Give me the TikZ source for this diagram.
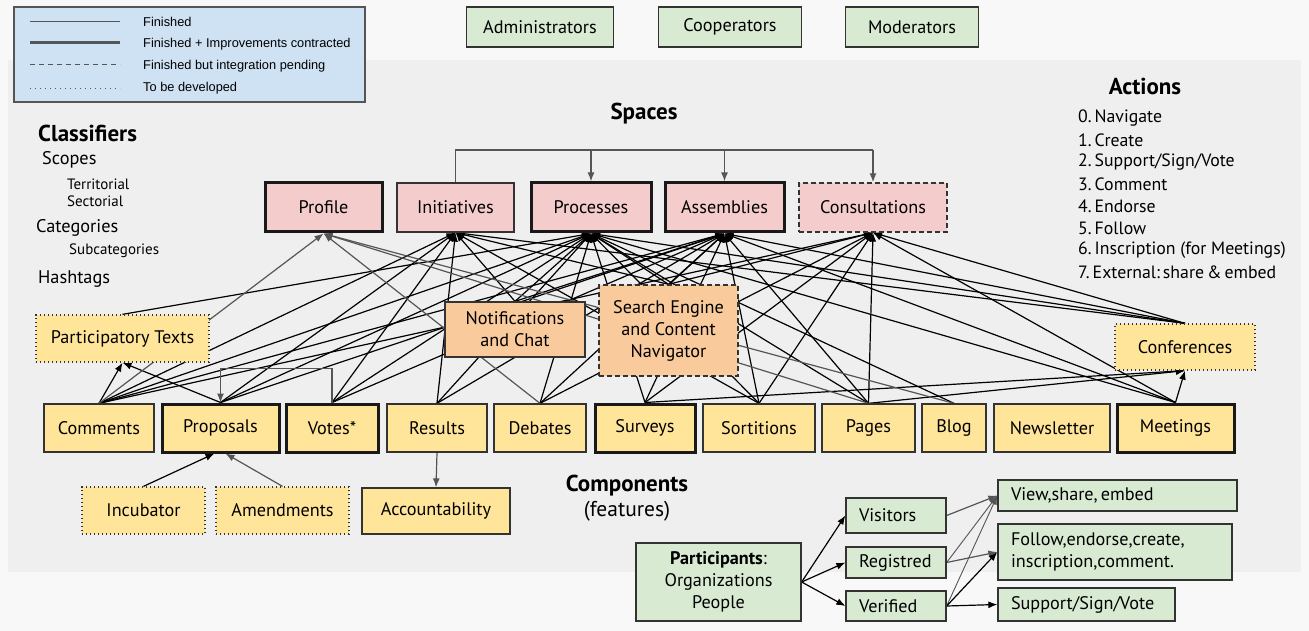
\documentclass[tikz,border=0pt]{standalone}
\usepackage{fontspec}
\setmainfont{PT Sans}
\newfontfamily\legendfont{Liberation Sans}
\usetikzlibrary{arrows.meta,calc}
\pgfdeclarelayer{bg}
\pgfdeclarelayer{edges}
\pgfsetlayers{bg,edges,main}
\definecolor{outerbg}{HTML}{F8F8F8}
\definecolor{innerbg}{HTML}{EFEFEF}
\definecolor{legendfill}{HTML}{CFE2F3}
\definecolor{greenfill}{HTML}{D9EAD3}
\definecolor{pinkfill}{HTML}{F4CCCC}
\definecolor{yellowfill}{HTML}{FFE599}
\definecolor{orangefill}{HTML}{F9CB9C}
\definecolor{edgegrey}{HTML}{555555}
\definecolor{boxline}{HTML}{333333}

\tikzset{
  box/.style={draw=boxline, line width=1.3pt, inner sep=0pt, align=center,
    font=\fontsize{18.2}{22}\selectfont},
  strongbox/.style={line width=3pt, draw=black!90},
  pendingbox/.style={dash pattern=on 5pt off 3pt},
  todobox/.style={dash pattern=on 1.2pt off 2.8pt},
  pink/.style={box, fill=pinkfill, minimum height=49pt},
  yel/.style={box, fill=yellowfill},
  orange/.style={box, fill=orangefill},
  green/.style={box, fill=greenfill},
  leftbox/.style={green, align=left, inner xsep=13pt},
  tip/.style={-{Latex[length=9pt,width=7pt]}},
  link/.style={tip, line width=1.2pt, draw=black},
  greylink/.style={tip, line width=1.2pt, draw=edgegrey},
  bracket/.style={line width=1.5pt, draw=edgegrey},
  plain/.style={inner sep=0pt, anchor=west},
  heading/.style={inner sep=0pt, font=\fontsize{23}{26}\selectfont\bfseries},
  mid/.style={plain, font=\fontsize{18.3}{21}\selectfont},
  small/.style={plain, font=\fontsize{15}{17}\selectfont},
  act/.style={plain, font=\fontsize{17.8}{21}\selectfont},
  legtext/.style={plain, font=\legendfont\fontsize{12.8}{14}\selectfont},
}

\begin{document}
\begin{tikzpicture}[x=1pt, y=-1pt]
\useasboundingbox (0,0) rectangle (1309,631);

\begin{pgfonlayer}{bg}
  \fill[outerbg] (0,0) rectangle (1309,631);
  \fill[innerbg] (8,60) rectangle (1301,572);
\end{pgfonlayer}

% legend
\node[draw=edgegrey, line width=1.3pt, fill=legendfill, minimum width=351pt,
  minimum height=95pt, inner sep=0pt] (legend) at (189.5,54.5) {};
\coordinate (l1a) at (30,22);  \coordinate (l1b) at (120,22);
\coordinate (l2a) at (30,43);  \coordinate (l2b) at (120,43);
\coordinate (l3a) at (30,65);  \coordinate (l3b) at (120,65);
\coordinate (l4a) at (30,88);  \coordinate (l4b) at (120,88);
\draw[edgegrey, line width=1pt] (l1a) -- (l1b);
\draw[edgegrey, line width=3pt] (l2a) -- (l2b);
\draw[edgegrey, line width=1pt, dash pattern=on 5pt off 4pt] (l3a) -- (l3b);
\draw[edgegrey, line width=0.8pt, dash pattern=on 0.8pt off 4.2pt] (l4a) -- (l4b);
\node[legtext] (t1) at (143,22) {Finished};
\node[legtext] (t2) at (143,44) {Finished + Improvements contracted};
\node[legtext] (t3) at (143,66) {Finished but integration pending};
\node[legtext] (t4) at (143,88) {To be developed};

% roles
\node[green, minimum width=147pt, minimum height=40pt] (admins) at (540,27) {Administrators};
\node[green, minimum width=143pt, minimum height=40pt] (coops) at (730,27) {Cooperators};
\node[green, minimum width=133pt, minimum height=40pt] (mods) at (912,27) {Moderators};

% classifiers
\node[heading, anchor=west] (classifiers) at (38,133) {Classifiers};
\node[mid] (scopes) at (42,160) {Scopes};
\node[small] (territorial) at (67,184) {Territorial};
\node[small] (sectorial) at (67,201) {Sectorial};
\node[mid] (categories) at (36,228) {Categories};
\node[small] (subcategories) at (69,251) {Subcategories};
\node[mid] (hashtags) at (38,279) {Hashtags};

% actions
\node[heading] (actions) at (1145,86) {Actions};
\node[act] (a0) at (1078,118) {0.\,Navigate};
\node[act] (a1) at (1078,140) {1.\,Create};
\node[act] (a2) at (1078,162) {2.\,Support/Sign/Vote};
\node[act] (a3) at (1078,184) {3.\,Comment};
\node[act] (a4) at (1078,206) {4.\,Endorse};
\node[act] (a5) at (1078,228) {5.\,Follow};
\node[act] (a6) at (1078,250) {6.\,Inscription (for Meetings)};
\node[act] (a7) at (1078,272) {7.\,External:\,share\,\&\,embed};

% spaces
\node[heading] (spaces) at (644,114) {Spaces};
\node[pink, strongbox, minimum width=117pt] (profile) at (323.5,207.5) {Profile};
\node[pink, minimum width=117pt] (initiatives) at (455.5,207.5) {Initiatives};
\node[pink, strongbox, minimum width=120pt] (processes) at (591,207.5) {Processes};
\node[pink, strongbox, minimum width=119pt] (assemblies) at (724.5,207.5) {Assemblies};
\node[pink, pendingbox, minimum width=148pt] (consultations) at (873,207.5) {Consultations};

% middle layer
\node[yel, todobox, minimum width=173pt, minimum height=47pt] (pt) at (122.5,338.5) {Participatory Texts};
\node[orange, minimum width=140pt, minimum height=55pt] (notif) at (515,329.5) {Notifications\\and Chat};
\node[orange, pendingbox, minimum width=139pt, minimum height=91pt] (search) at (668.5,330.5) {Search Engine\\and Content\\Navigator};
\node[yel, todobox, minimum width=140pt, minimum height=46pt] (conferences) at (1185,347) {Conferences};

% components
\tikzset{comp/.style={yel, minimum height=48pt}}
\node[comp, minimum width=110pt] (comments) at (99,428) {Comments};
\node[comp, strongbox, minimum width=117pt] (proposals) at (220.5,428) {Proposals};
\node[comp, strongbox, minimum width=92pt] (votes) at (332,428) {Votes*};
\node[comp, minimum width=100pt] (results) at (437,428) {Results};
\node[comp, minimum width=92pt] (debates) at (540,428) {Debates};
\node[comp, strongbox, minimum width=100pt] (surveys) at (645,428) {Surveys};
\node[comp, minimum width=112pt] (sortitions) at (759,428) {Sortitions};
\node[comp, minimum width=93pt] (pages) at (868.5,428) {Pages};
\node[comp, minimum width=64pt] (blog) at (954,428) {Blog};
\node[comp, minimum width=116pt] (newsletter) at (1052,428) {Newsletter};
\node[comp, strongbox, minimum width=117pt] (meetings) at (1175.5,428) {Meetings};

\node[yel, todobox, minimum width=123pt, minimum height=47pt] (incubator) at (143.5,510.5) {Incubator};
\node[yel, todobox, minimum width=133pt, minimum height=47pt] (amendments) at (282.5,510.5) {Amendments};
\node[yel, minimum width=148pt, minimum height=46pt] (accountability) at (436,511) {Accountability};

\node[heading] (components) at (627,486) {Components};
\node[inner sep=0pt, font=\fontsize{21.5}{24}\selectfont] (features) at (627,511) {(features)};

% participants
\node[green, minimum width=165pt, minimum height=78pt] (participants) at (718.5,582) {\textbf{Participants}:\\Organizations\\People};
\node[leftbox, text width=74pt, minimum height=35pt] (visitors) at (896,515.5) {Visitors};
\node[leftbox, text width=74pt, minimum height=31pt] (registred) at (896,562.5) {Registred};
\node[leftbox, text width=74pt, minimum height=30pt] (verified) at (896,606) {Verified};
\node[leftbox, text width=213pt, minimum height=31pt] (view) at (1117.5,495.5) {View,share,\,embed};
\node[leftbox, text width=208pt, minimum height=56pt] (follow) at (1115,552) {Follow,endorse,create,\\inscription,comment.};
\node[leftbox, text width=151pt, minimum height=33pt] (support) at (1086.5,604.5) {Support/Sign/Vote};

\begin{pgfonlayer}{edges}
  % initiatives feed the other spaces
  \coordinate (brR) at (873,150);
  \draw[bracket] (initiatives.north) |- (brR);
  \draw[bracket, tip] (processes.north |- brR) -- (processes.north);
  \draw[bracket, tip] (assemblies.north |- brR) -- (assemblies.north);
  \draw[bracket, tip] (brR) -- (consultations.north);

  % components into spaces
  \foreach \s/\t in {
    comments/pt, proposals/pt,
    comments/initiatives, comments/processes, comments/assemblies, comments/consultations,
    proposals/initiatives, proposals/processes, proposals/assemblies,
    votes/initiatives, votes/processes, votes/assemblies,
    results/initiatives, results/processes, results/assemblies,
    debates/processes, debates/assemblies, debates/consultations,
    surveys/processes, surveys/assemblies, surveys/consultations, surveys/conferences,
    sortitions/initiatives, sortitions/processes, sortitions/assemblies, sortitions/consultations,
    pages/processes, pages/assemblies, pages/consultations, pages/conferences,
    blog/processes,
    meetings/processes, meetings/assemblies, meetings/consultations, meetings/conferences,
    pt/processes,
    conferences/processes, conferences/assemblies, conferences/consultations, conferences/initiatives,
    notif/initiatives, notif/processes, notif/assemblies,
    search/initiatives, search/processes, search/assemblies, search/consultations}
    \draw[link] (\s.north) -- (\t.south);

  \foreach \s in {comments, debates, pages, blog}
    \draw[greylink] (\s.north) -- (profile.south);

  % sub-features
  \draw[greylink] (votes.north) -- ++(0,-34) -| (proposals.north);
  \draw[link] (incubator.north) -- ($(proposals.south)+(-6,0)$);
  \draw[greylink] (amendments.north) -- ($(proposals.south)+(5,0)$);
  \draw[greylink] (results.south) -- (accountability.north);

  % participants and their permissions
  \draw[link] (participants.east) -- (visitors.west);
  \draw[link] (participants.east) -- (registred.west);
  \draw[link] (participants.east) -- (verified.west);
  \draw[greylink] (visitors.east) -- (view.west);
  \draw[greylink, line width=0.9pt] (registred.east) -- (view.west);
  \draw[greylink] (registred.east) -- (follow.west);
  \draw[greylink, line width=0.9pt] (verified.east) -- (view.west);
  \draw[link] (verified.east) -- (follow.west);
  \draw[link] (verified.east) -- (support.west);
\end{pgfonlayer}
\end{tikzpicture}
\end{document}
